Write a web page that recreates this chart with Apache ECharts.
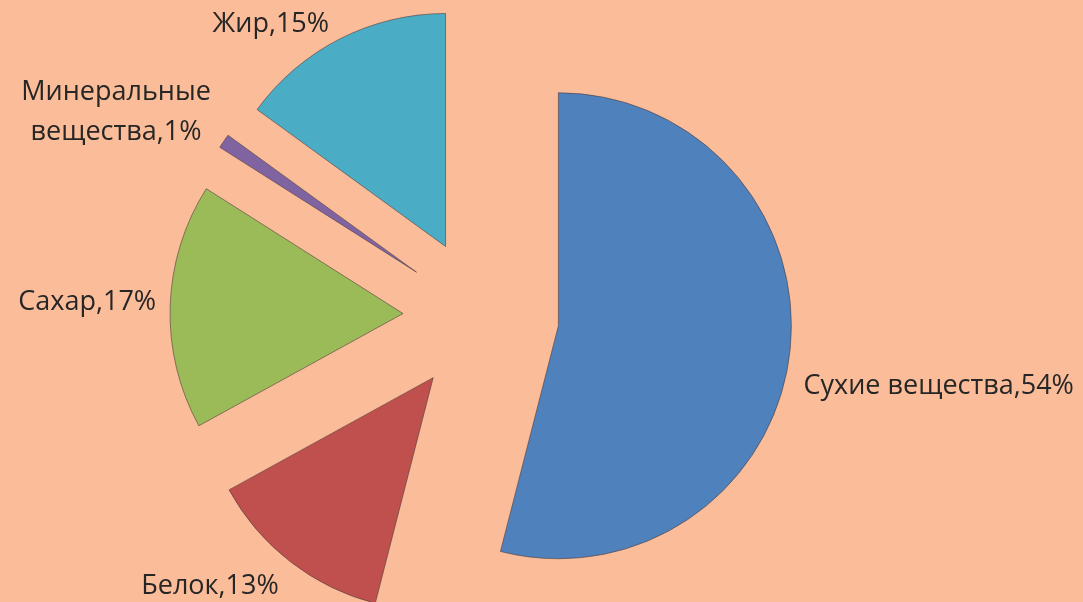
<!DOCTYPE html>
<html>
<head>
	<meta charset="utf-8">
	<title>Состав</title>
	<script src="https://cdn.jsdelivr.net/npm/echarts@6/dist/echarts.min.js"></script>
	<style>
		html, body { margin: 0; padding: 0; background: #fbbd99; }
	</style>
</head>
<body>
	<div id="main" style="width: 1083px;height:602px;"></div>
	<script type="text/javascript">
		// данные диаграммы
		var names = ['Сухие вещества', 'Белок', 'Сахар', 'Минеральные\nвещества', 'Жир'];
		var values = [54, 13, 17, 1, 15];
		var colors = ['#4f81bd', '#c0504d', '#9bbb59', '#8064a2', '#4bacc6'];

		// сдвиг подписей по вертикали (как в исходной картинке)
		var labelDy = [31, 20, -4, -26, -9];

		var data = [];
		for (var i = 0; i < names.length; i++) {
			data.push({
				name: names[i],
				value: values[i],
				selected: true,
				itemStyle: { color: colors[i] }
			});
		}

		var myChart = echarts.init(document.getElementById('main'));
		var option = {
			backgroundColor: '#fbbd99',
			animation: false,
			series: [{
				type: 'pie',
				center: [481, 316],
				radius: 233,
				startAngle: 90,
				clockwise: true,
				selectedMode: 'multiple',
				selectedOffset: 78,
				itemStyle: {
					borderColor: 'rgba(80,60,60,0.6)',
					borderWidth: 1
				},
				label: {
					show: true,
					position: 'outside',
					formatter: function (p) {
						var lines = (p.name + ',' + p.value + '%').split('\n');
						return lines.map(function (s) { return '{t|' + s + '}'; }).join('\n');
					},
					rich: {
						t: {
							color: '#262626',
							fontSize: 27,
							fontFamily: 'Open Sans',
							lineHeight: 40,
							align: 'center'
						}
					}
				},
				labelLine: { show: false, length: 6, length2: 3 },
				labelLayout: function (params) {
					return { dy: labelDy[params.dataIndex] };
				},
				emphasis: { disabled: true },
				data: data
			}]
		};
		myChart.setOption(option);
	</script>
</body>
</html>
